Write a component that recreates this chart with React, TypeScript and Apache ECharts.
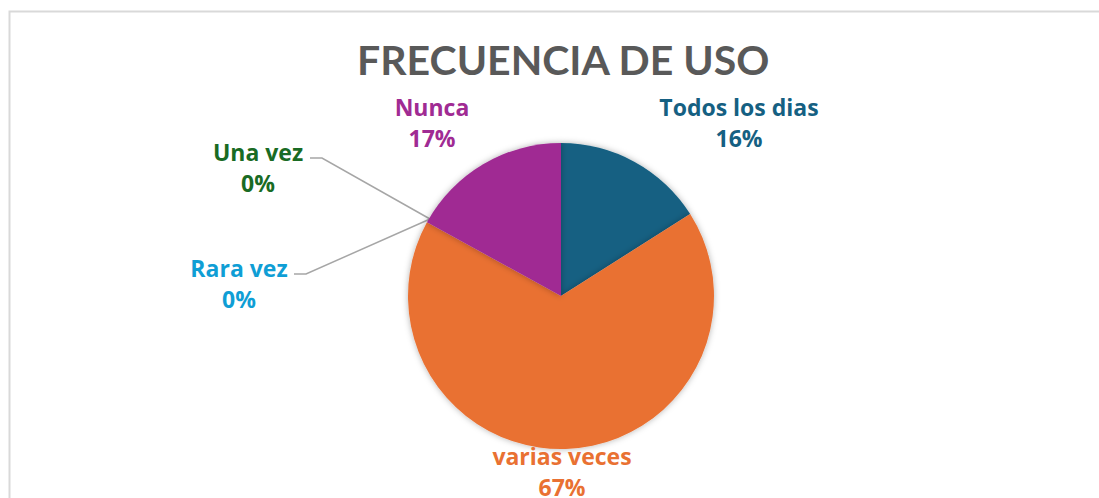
import React, { useEffect, useRef } from "react";
import * as echarts from "echarts";

const categories = ["Todos los dias", "varias veces", "Rara vez", "Una vez", "Nunca"];
const values = [16, 67, 0, 0, 17];
const colors = ["#156082", "#E97132", "#0F9ED5", "#196B24", "#A02B93"];
const titleText = "FRECUENCIA DE USO";

// label layout (positions of label blocks and leader lines)
const labelPos: { x: number; y: number; line?: number[][] }[] = [
  { x: 739, y: 122 },
  { x: 562, y: 471 },
  { x: 239, y: 283, line: [[430, 219], [306, 274], [294, 274]] },
  { x: 258, y: 167, line: [[430, 219], [322, 158], [310, 158]] },
  { x: 432, y: 122 },
];

export default function App() {
  const ref = useRef<HTMLDivElement>(null);
  useEffect(() => {
    document.body.style.margin = "0";
    const chart = echarts.init(ref.current!, undefined, { renderer: "svg" });
    chart.setOption({
      animation: false,
      backgroundColor: "#ffffff",
      title: {
        text: titleText,
        left: 352,
        top: 34,
        textStyle: { fontFamily: "Lato", fontWeight: "bold", fontSize: 41, color: "#595959" },
      },
      graphic: [
        {
          type: "rect",
          shape: { x: 9.5, y: 11.5, width: 1300, height: 700 },
          style: { fill: "none", stroke: "#d9d9d9", lineWidth: 2 },
          silent: true,
        },
      ],
      series: [
        {
          type: "pie",
          center: [561, 296],
          radius: 153,
          startAngle: 90,
          clockwise: true,
          percentPrecision: 0,
          avoidLabelOverlap: false,
          itemStyle: { shadowBlur: 6, shadowColor: "rgba(0,0,0,0.3)", borderWidth: 0 },
          label: {
            show: true,
            position: "outside",
            formatter: "{b}\n{d}%",
            fontFamily: "Open Sans",
            fontWeight: "bold",
            fontSize: 23,
            lineHeight: 31,
            align: "center",
          },
          labelLine: {
            show: true,
            lineStyle: { color: "#a6a6a6", width: 1.5 },
          },
          labelLayout: (params: any) => {
            const p = labelPos[params.dataIndex];
            const out: any = { x: p.x, y: p.y, align: "center", verticalAlign: "middle", moveOverlap: false };
            if (p.line) out.labelLinePoints = p.line;
            return out;
          },
          data: categories.map((name, i) => ({
            name,
            value: values[i],
            itemStyle: { color: colors[i] },
            label: { color: colors[i] },
            labelLine: { show: !!labelPos[i].line },
          })),
        },
      ],
    });
    return () => chart.dispose();
  }, []);
  return <div ref={ref} style={{ width: 1099, height: 498 }} />;
}
